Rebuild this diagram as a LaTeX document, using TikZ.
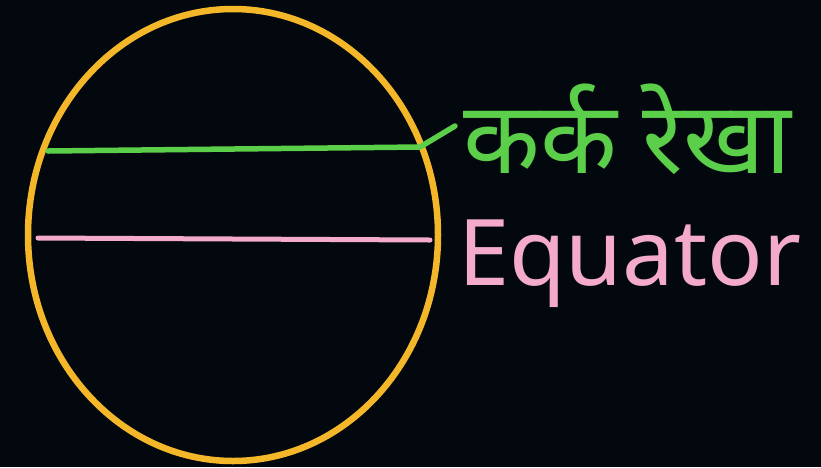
\documentclass[tikz,border=0pt]{standalone}
\usepackage{fontspec}
\usetikzlibrary{positioning,calc}
\newfontfamily\devfont[Script=Devanagari]{Noto Sans}
\newfontfamily\labelfont{Noto Sans}
\definecolor{boardbg}{HTML}{03080F}
\definecolor{globeline}{HTML}{F5B72A}
\definecolor{cancerline}{HTML}{5CCF4A}
\definecolor{equatorline}{HTML}{F3AACB}

\begin{document}
\begin{tikzpicture}[x=1pt, y=-1pt,
  every node/.style = {inner sep=0pt},
  globe/.style   = {draw=globeline, line width=6.5pt},
  latline/.style = {line width=5.5pt, line cap=round, line join=round},
  label/.style   = {anchor=west},
]
  \fill[boardbg] (0,0) rectangle (821,467);
  \useasboundingbox (0,0) rectangle (821,467);

  % globe outline
  \draw[globe] (233,235) ellipse [x radius=205, y radius=226];

  % tropic of cancer and equator
  \coordinate (cancerW) at (48,151);
  \coordinate (cancerE) at (420,147);
  \coordinate (cancerTip) at (455,126);
  \coordinate (equatorW) at (38,238);
  \coordinate (equatorE) at (430,240);
  \draw[latline, cancerline] (cancerW) -- (cancerE) -- (cancerTip);
  \draw[latline, equatorline, line width=5pt] (equatorW) -- (equatorE);

  % labels
  \node[label, text=cancerline, font=\devfont\fontsize{100}{100}\selectfont]
    (cancer) at (463,129) {कर्क रेखा};
  \node[label, anchor=base west, text=equatorline,
        font=\labelfont\fontsize{92}{92}\selectfont]
    (equator) at (458,285) {Equator};
\end{tikzpicture}
\end{document}
